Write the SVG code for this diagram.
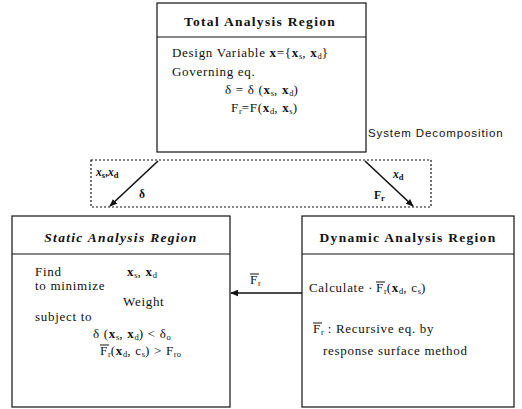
<svg xmlns="http://www.w3.org/2000/svg" width="522" height="409" viewBox="0 0 522 409">
<defs>
<style>
.box{fill:#fff;stroke:#111;stroke-width:1.2}
.div{stroke:#111;stroke-width:1.2}
.title{font-family:"Liberation Serif",serif;font-size:13.5px;font-weight:bold;fill:#111;letter-spacing:1.3px}
.t{font-family:"Liberation Serif",serif;font-size:13px;fill:#111;letter-spacing:0.7px}
.b{font-weight:bold}
.s{font-size:8.5px;letter-spacing:0}
.lab{font-family:"Liberation Serif",serif;font-size:11.5px;font-weight:bold;fill:#111}
.sys{font-family:"Liberation Sans",sans-serif;font-size:11.5px;fill:#111;letter-spacing:0.9px}
.con{stroke:#111;stroke-width:1.6;fill:none}
.dot{stroke:#111;stroke-width:1.2;fill:none;stroke-dasharray:2 2}
.ov{stroke:#111;stroke-width:1}
</style>
<marker id="ah" markerWidth="8" markerHeight="8" refX="7" refY="4" orient="auto" markerUnits="userSpaceOnUse">
<path d="M0,0.8 L8,4 L0,7.2 Z" fill="#111"/>
</marker>
</defs>
<rect width="522" height="409" fill="#fff"/>

<g id="total">
<rect class="box" x="157" y="3" width="209" height="149"/>
<line class="div" x1="157" y1="37" x2="366" y2="37"/>
<text class="title" x="260" y="26" text-anchor="middle">Total Analysis Region</text>
<text class="t" x="172" y="57">Design Variable <tspan class="b">x</tspan>={<tspan class="b">x</tspan><tspan class="s" dy="2">s</tspan><tspan dy="-2">, </tspan><tspan class="b">x</tspan><tspan class="s" dy="2">d</tspan><tspan dy="-2">}</tspan></text>
<text class="t" x="172" y="76">Governing eq.</text>
<text class="t" x="225" y="94">δ = δ (<tspan class="b">x</tspan><tspan class="s" dy="2">s</tspan><tspan dy="-2">, </tspan><tspan class="b">x</tspan><tspan class="s" dy="2">d</tspan><tspan dy="-2">)</tspan></text>
<text class="t" x="231" y="112">F<tspan class="s" dy="2">r</tspan><tspan dy="-2">=F(</tspan><tspan class="b">x</tspan><tspan class="s" dy="2">d</tspan><tspan dy="-2">, </tspan><tspan class="b">x</tspan><tspan class="s" dy="2">s</tspan><tspan dy="-2">)</tspan></text>
</g>

<g id="decomposition">
<rect class="dot" x="91" y="160" width="340" height="47"/>
<text class="sys" x="368" y="137">System Decomposition</text>
</g>

<g id="static">
<rect class="box" x="12" y="216" width="218" height="191"/>
<line class="div" x1="12" y1="254" x2="230" y2="254"/>
<text class="title" x="121" y="242" text-anchor="middle" font-style="italic">Static Analysis Region</text>
<text class="t" x="35" y="276">Find</text>
<text class="t" x="127" y="276"><tspan class="b">x</tspan><tspan class="s" dy="2">s</tspan><tspan dy="-2">, </tspan><tspan class="b">x</tspan><tspan class="s" dy="2">d</tspan></text>
<text class="t" x="35" y="290">to minimize</text>
<text class="t" x="123" y="306">Weight</text>
<text class="t" x="35" y="321">subject to</text>
<text class="t" x="93" y="338">δ (<tspan class="b">x</tspan><tspan class="s" dy="2">s</tspan><tspan dy="-2">, </tspan><tspan class="b">x</tspan><tspan class="s" dy="2">d</tspan><tspan dy="-2">)  &lt;  δ</tspan><tspan class="s" dy="2">o</tspan></text>
<line class="ov" x1="100" y1="345" x2="109" y2="345"/>
<text class="t" x="100" y="355">F<tspan class="s" dy="2">r</tspan><tspan dy="-2">(</tspan><tspan class="b">x</tspan><tspan class="s" dy="2">d</tspan><tspan dy="-2">, c</tspan><tspan class="s" dy="2">s</tspan><tspan dy="-2">)  &gt;  F</tspan><tspan class="s" dy="2">ro</tspan></text>
</g>

<g id="dynamic">
<rect class="box" x="302" y="216" width="212" height="191"/>
<line class="div" x1="302" y1="254" x2="514" y2="254"/>
<text class="title" x="408" y="242" text-anchor="middle">Dynamic Analysis Region</text>
<text class="t" x="309" y="292">Calculate  ·</text>
<text class="t" x="376" y="292">F<tspan class="s" dy="2">r</tspan><tspan dy="-2">(</tspan><tspan class="b">x</tspan><tspan class="s" dy="2">d</tspan><tspan dy="-2">, c</tspan><tspan class="s" dy="2">s</tspan><tspan dy="-2">)</tspan></text>
<line class="ov" x1="376" y1="282" x2="385" y2="282"/>
<text class="t" x="313" y="333">F<tspan class="s" dy="2">r</tspan><tspan dy="-2"> : Recursive eq. by</tspan></text>
<line class="ov" x1="313" y1="323" x2="322" y2="323"/>
<text class="t" x="323" y="355">response surface method</text>
</g>

<g id="connectors">
<line class="con" x1="158" y1="161" x2="110" y2="206" marker-end="url(#ah)"/>
<line class="con" x1="365" y1="161" x2="413" y2="206" marker-end="url(#ah)"/>
<line class="con" x1="302" y1="293" x2="231" y2="293" marker-end="url(#ah)"/>
<text class="lab" x="96" y="176"><tspan font-style="italic">x</tspan><tspan class="s" dy="2">s</tspan><tspan dy="-2">,</tspan><tspan font-style="italic">x</tspan><tspan class="s" dy="2">d</tspan></text>
<text class="lab" x="139" y="198">δ</text>
<text class="lab" x="393" y="178"><tspan font-style="italic">x</tspan><tspan class="s" dy="2">d</tspan></text>
<text class="lab" x="374" y="199">F<tspan class="s" dy="2">r</tspan></text>
<text class="t" x="250" y="284">F<tspan class="s" dy="2">r</tspan></text>
<line class="ov" x1="250" y1="274" x2="259" y2="274"/>
</g>
</svg>
